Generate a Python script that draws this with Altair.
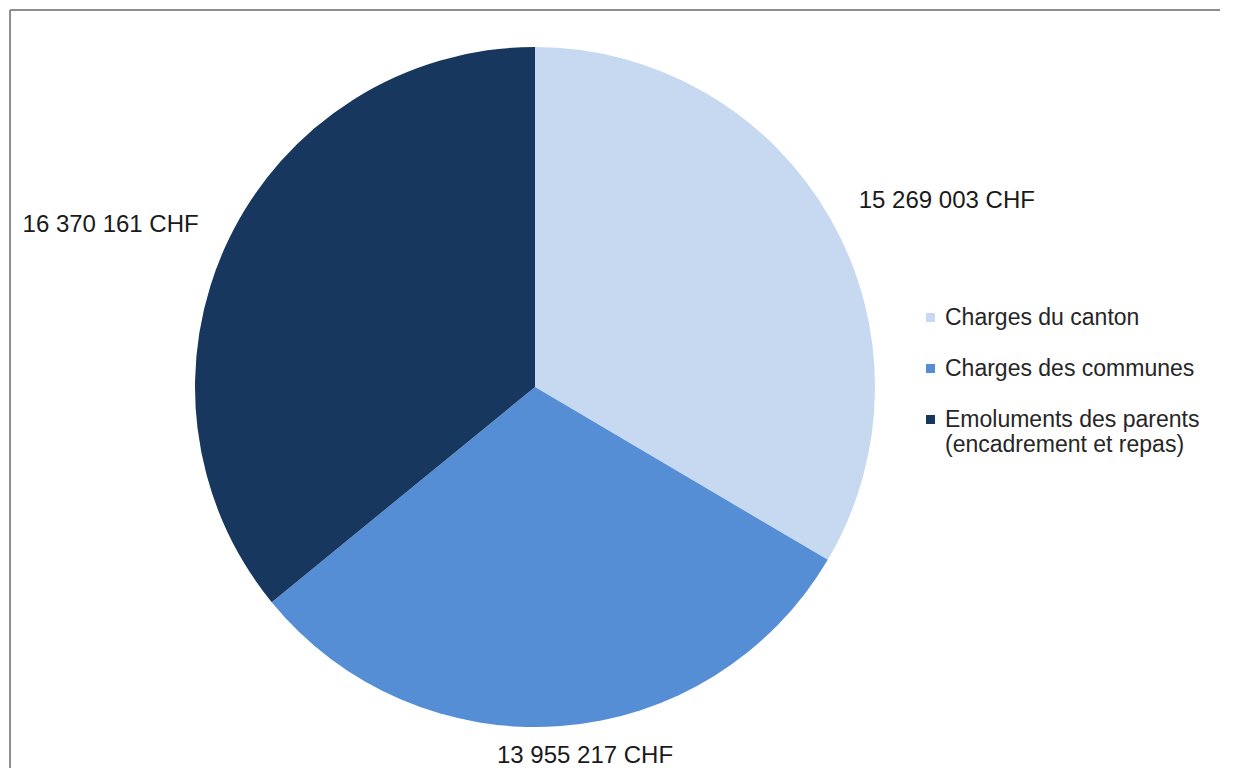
import altair as alt
import pandas as pd

categories = [
    "Charges du canton",
    "Charges des communes",
    "Emoluments des parents\n(encadrement et repas)",
]
values = [15269003, 13955217, 16370161]
value_labels = ["15 269 003 CHF", "13 955 217 CHF", "16 370 161 CHF"]
colors = ["#C6D9F1", "#558ED5", "#17375E"]

df = pd.DataFrame({
    "category": categories,
    "value": values,
    "label": value_labels,
    "order": list(range(len(categories))),
})

FONT = "Liberation Sans"
base = alt.Chart(df)
theta = alt.Theta("value:Q", stack=True)
order = alt.Order("order:Q")

pie = base.mark_arc(outerRadius=340).encode(
    theta=theta,
    order=order,
    color=alt.Color(
        "category:N",
        scale=alt.Scale(domain=categories, range=colors),
        legend=alt.Legend(
            title=None,
            orient="none",
            legendX=909,
            legendY=296,
            padding=0,
            symbolType="square",
            symbolSize=81,
            symbolStrokeWidth=0,
            labelFontSize=23,
            labelFont=FONT,
            labelColor="#262626",
            labelLimit=400,
            labelOffset=3,
            rowPadding=27,
            labelExpr="split(datum.label, '\\n')",
        ),
    ),
)


def label_layer(cat, r, dx, dy):
    return base.mark_text(
        radius=r, dx=dx, dy=dy, fontSize=24, font=FONT, color="#1a1a1a", baseline="middle"
    ).encode(
        theta=theta,
        order=order,
        detail="category:N",
        text=alt.condition(alt.datum.category == cat, alt.Text("label:N"), alt.value("")),
    )


lab_canton = label_layer(categories[0], 450, 21, 37)
lab_communes = label_layer(categories[1], 370, 22, 0)
lab_parents = label_layer(categories[2], 452, -16, 32)

frame_top = base.mark_rule(color="#8c8c8c", strokeWidth=1.5).encode(
    x=alt.value(0), x2=alt.value(3000), y=alt.value(0)
)
frame_left = base.mark_rule(color="#8c8c8c", strokeWidth=1.5).encode(
    x=alt.value(0), y=alt.value(0), y2=alt.value(3000)
)

chart = alt.layer(
    frame_top, frame_left, pie, lab_canton, lab_communes, lab_parents
).properties(
    width=1050,
    height=754,
    padding={"left": 2, "top": 2, "right": 160, "bottom": 4},
    autosize=alt.AutoSizeParams(type="none"),
    background="white",
).configure_view(stroke=None)

chart.save("out.html", embed_options={"renderer": "svg", "actions": False})
